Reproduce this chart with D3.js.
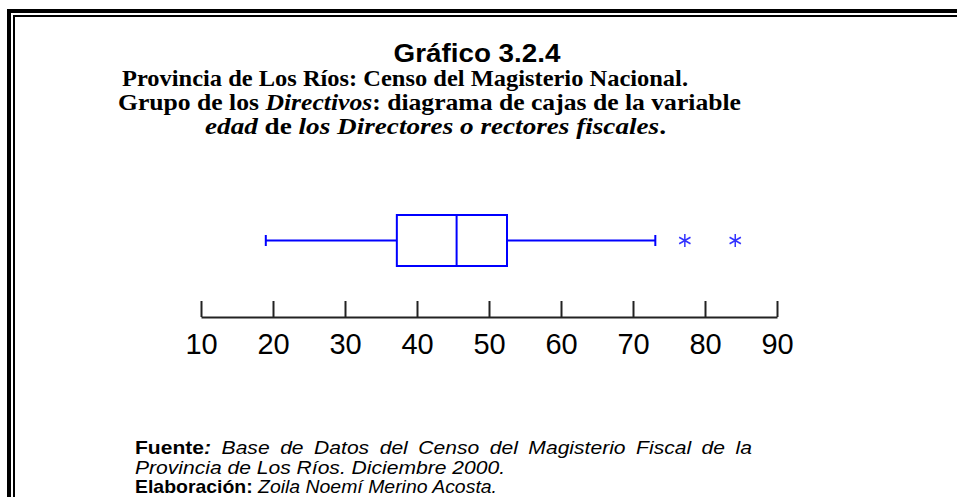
<!DOCTYPE html>
<html>
<head>
<meta charset="utf-8">
<script src="https://cdn.jsdelivr.net/npm/d3@7"></script>
<style>
  body { margin: 0; background: #fff; overflow: hidden; }
  svg { display: block; }
</style>
</head>
<body>
<div id="chart"></div>
<script>
// Box plot summary for "edad"
var boxStats = {low: 19, q1: 37.2, median: 45.5, q3: 52.5, high: 73.1};
var outliers = [77.2, 84.2];
var tickValues = [10, 20, 30, 40, 50, 60, 70, 80, 90];

var width = 957, height = 497;
var blue = "#0000ff";
var sans = "'Liberation Sans', Arial, sans-serif";
var serif = "'Liberation Serif', 'Times New Roman', serif";

var svg = d3.select("#chart").append("svg")
    .attr("width", width)
    .attr("height", height);

// Double frame, runs off the right and bottom edge
svg.append("rect")
    .attr("x", 9).attr("y", 11)
    .attr("width", 1000).attr("height", 600)
    .attr("fill", "none").attr("stroke", "#000").attr("stroke-width", 4);
svg.append("rect")
    .attr("x", 14).attr("y", 16)
    .attr("width", 1000).attr("height", 600)
    .attr("fill", "none").attr("stroke", "#000").attr("stroke-width", 2);

// Titles
svg.append("text")
    .attr("x", 477).attr("y", 62)
    .attr("text-anchor", "middle")
    .attr("textLength", 167)
    .attr("lengthAdjust", "spacingAndGlyphs")
    .style("font-family", sans)
    .style("font-weight", "bold")
    .style("font-size", "25px")
    .text("Gráfico 3.2.4");

var titleLines = [
    [["Provincia de Los Ríos: Censo del Magisterio Nacional.", false]],
    [["Grupo de los ", false], ["Directivos", true], [": diagrama de cajas de la variable", false]],
    [["edad", true], [" de ", false], ["los Directores o rectores fiscales", true], [".", false]]
];
var lineX = [122, 118, 205];
var lineW = [566, 623, 461];
var lineY = [86, 110, 134];

titleLines.forEach(function (parts, i) {
    var t = svg.append("text")
        .attr("x", lineX[i]).attr("y", lineY[i])
        .attr("textLength", lineW[i])
        .attr("lengthAdjust", "spacingAndGlyphs")
        .style("font-family", serif)
        .style("font-weight", "bold")
        .style("font-size", "24px");
    parts.forEach(function (p) {
        t.append("tspan")
            .style("font-style", p[1] ? "italic" : "normal")
            .text(p[0]);
    });
});

// Scale and axis
var x = d3.scaleLinear().domain([10, 90]).range([201, 777]);
var axisY = 317;

var axis = svg.append("g")
    .attr("transform", "translate(0," + axisY + ")")
    .call(d3.axisBottom(x)
        .tickValues(tickValues)
        .tickSizeInner(-16)
        .tickSizeOuter(0)
        .tickPadding(15));

axis.select(".domain").attr("stroke", "#222").attr("stroke-width", 2);
axis.selectAll(".tick line").attr("stroke", "#222").attr("stroke-width", 2);
axis.selectAll(".tick text")
    .attr("y", 37).attr("dy", 0)
    .attr("fill", "#000")
    .style("font-family", sans)
    .style("font-size", "29px");

// Box plot
var cy = 240.5, boxH = 51, capH = 11;
var g = svg.append("g")
    .attr("fill", "none")
    .attr("stroke", blue)
    .attr("stroke-width", 2);

g.append("line")
    .attr("x1", x(boxStats.low)).attr("x2", x(boxStats.q1))
    .attr("y1", cy).attr("y2", cy);
g.append("line")
    .attr("x1", x(boxStats.q3)).attr("x2", x(boxStats.high))
    .attr("y1", cy).attr("y2", cy);
[boxStats.low, boxStats.high].forEach(function (v) {
    g.append("line")
        .attr("x1", x(v)).attr("x2", x(v))
        .attr("y1", cy - capH / 2).attr("y2", cy + capH / 2);
});
g.append("rect")
    .attr("x", x(boxStats.q1)).attr("y", cy - boxH / 2)
    .attr("width", x(boxStats.q3) - x(boxStats.q1))
    .attr("height", boxH);
g.append("line")
    .attr("x1", x(boxStats.median)).attr("x2", x(boxStats.median))
    .attr("y1", cy - boxH / 2).attr("y2", cy + boxH / 2);

// Outliers as asterisks
var asterisk = d3.symbolAsterisk || {
    draw: function (ctx, size) {
        var r = Math.sqrt(size + Math.min(size / 28, 0.75)) * 0.59436,
            t = r / 2, u = t * Math.sqrt(3);
        ctx.moveTo(0, r); ctx.lineTo(0, -r);
        ctx.moveTo(-u, -t); ctx.lineTo(u, t);
        ctx.moveTo(-u, t); ctx.lineTo(u, -t);
    }
};
svg.selectAll(".outlier")
    .data(outliers)
    .enter().append("path")
    .attr("class", "outlier")
    .attr("transform", function (d) { return "translate(" + x(d) + "," + cy + ")"; })
    .attr("d", d3.symbol().type(asterisk).size(120))
    .attr("fill", "none")
    .attr("stroke", "#3333ff")
    .attr("stroke-width", 1.5);

// Source notes (first line is justified in the original)
var notes = [
    [["Fuente", "bold", "normal"], [":", "bold", "italic"], [" Base de Datos del Censo del Magisterio Fiscal de la", "normal", "italic"]],
    [["Provincia de Los Ríos. Diciembre 2000.", "normal", "italic"]],
    [["Elaboración:", "bold", "normal"], [" Zoila Noemí Merino Acosta.", "normal", "italic"]]
];
var noteY = [454, 474, 493];
var noteTexts = notes.map(function (parts, i) {
    var t = svg.append("text")
        .attr("x", 135).attr("y", noteY[i])
        .style("font-family", sans)
        .style("font-size", "19px");
    parts.forEach(function (p) {
        t.append("tspan")
            .style("font-weight", p[1])
            .style("font-style", p[2])
            .text(p[0]);
    });
    return t;
});

var stretch = 370 / noteTexts[1].node().getComputedTextLength();
var w0 = noteTexts[0].node().getComputedTextLength();
var spaces = notes[0].map(function (p) { return p[0]; }).join("").split(" ").length - 1;
noteTexts[0].style("word-spacing", ((617 / stretch - w0) / spaces) + "px");
noteTexts[0].attr("textLength", 617).attr("lengthAdjust", "spacingAndGlyphs");
noteTexts[1].attr("textLength", 370).attr("lengthAdjust", "spacingAndGlyphs");
noteTexts[2].attr("textLength", 362).attr("lengthAdjust", "spacingAndGlyphs");
</script>
</body>
</html>
